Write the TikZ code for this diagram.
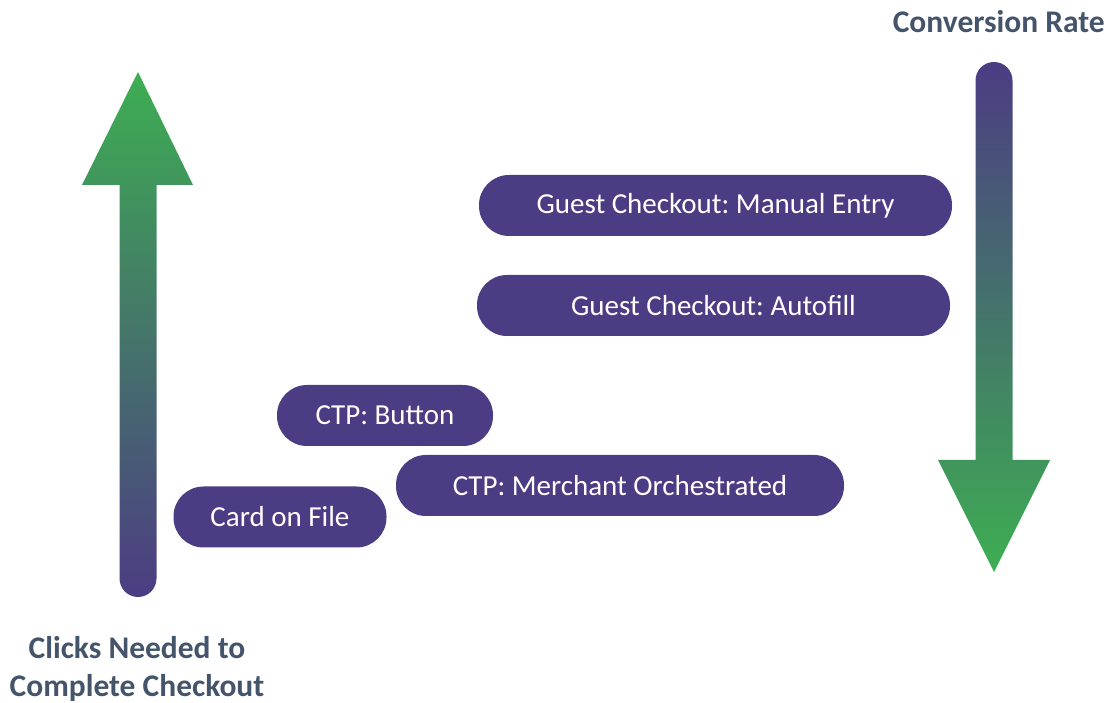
\documentclass[tikz,border=0pt]{standalone}
\usepackage{fontspec}
\setmainfont{Carlito}
\usetikzlibrary{positioning}
\definecolor{pillpurple}{HTML}{4C3C83}
\definecolor{arrowgreen}{HTML}{3DAE52}
\definecolor{arrowmid}{HTML}{495D80}
\definecolor{labelgray}{HTML}{44546A}
\frenchspacing

\begin{document}
\begin{tikzpicture}[
    x=1pt, y=1pt,
    every node/.style={font=\fontsize{29}{38}\selectfont},
    pill/.style={fill=pillpurple, text=white, rounded corners=30pt, minimum height=61pt, inner sep=0pt},
    axislabel/.style={text=labelgray, font=\fontsize{31.5}{38}\selectfont\bfseries, align=center, inner sep=0pt}
]
\useasboundingbox (0,0) rectangle (1108,703);
% left arrow: clicks
\shade[top color=arrowgreen, middle color=arrowmid, bottom color=pillpurple]
    (119.5,518) -- (119.5,124.5) arc[start angle=180, end angle=360, radius=18.5]
    -- (156.5,518) -- (193,518) -- (138,631) -- (82,518) -- cycle;
% right arrow: conversion
\shade[top color=pillpurple, middle color=arrowmid, bottom color=arrowgreen]
    (1012.5,243) -- (1012.5,622.5) arc[start angle=0, end angle=180, radius=18.5]
    -- (975.5,243) -- (938,243) -- (994,131) -- (1050,243) -- cycle;
\node[pill, minimum width=473pt] (manual) at (715.5,497.5) {Guest Checkout: Manual Entry};
\node[pill, minimum width=473pt] (autofill) at (713.5,397.5) {Guest Checkout: Autofill};
\node[pill, minimum width=216pt] (button) at (385,287.5) {CTP: Button};
\node[pill, minimum width=448pt] (orchestrated) at (620,217.5) {CTP: Merchant Orchestrated};
\node[pill, minimum width=213pt] (cardfile) at (280,186) {Card on File};
\node[axislabel, anchor=east] (conversion) at (1105,681) {Conversion Rate};
\node[axislabel] (clicks) at (137,34) {Clicks Needed to\\Complete Checkout};
\end{tikzpicture}
\end{document}
